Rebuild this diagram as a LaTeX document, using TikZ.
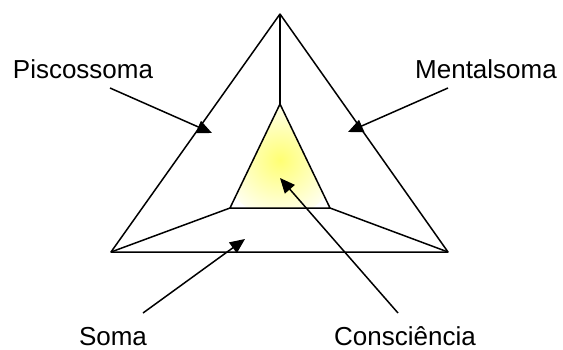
\documentclass[tikz,border=0pt]{standalone}
\usepackage{fontspec}
\setmainfont{Liberation Sans}
\usetikzlibrary{arrows.meta, calc}

\begin{document}
\begin{tikzpicture}[
    x=1pt, y=-1pt,
    edge/.style={line width=1.5pt, line join=round},
    label/.style={anchor=base, inner sep=0pt, font=\fontsize{26}{28}\selectfont},
    pointer/.style={line width=1.5pt, -{Triangle[length=15pt, width=13pt]}}
]
\useasboundingbox (0,0) rectangle (563,349);

% corners of the two triangles
\coordinate (top) at (280,14);
\coordinate (left) at (111,252);
\coordinate (right) at (448,252);
\coordinate (itop) at (280,104);
\coordinate (ileft) at (230,208);
\coordinate (iright) at (330,208);

% glowing core
\begin{scope}
  \clip (itop) -- (ileft) -- (iright) -- cycle;
  \shade[inner color=yellow!55, outer color=yellow!6] (280,160) circle (58);
\end{scope}

\draw[edge] (top) -- (left) -- (right) -- cycle;
\draw[edge] (itop) -- (ileft) -- (iright) -- cycle;
\draw[edge] (top) -- (itop);
\draw[edge] (left) -- (ileft);
\draw[edge] (right) -- (iright);

\node[label] (psi) at (83,78) {Piscossoma};
\node[label] (mental) at (486,78) {Mentalsoma};
\node[label] (soma) at (113,345) {Soma};
\node[label] (cons) at (405,345) {Consciência};

\coordinate (psi-tail) at (110,88);
\coordinate (psi-tip) at (212,133);
\coordinate (mental-tail) at (448,88);
\coordinate (mental-tip) at (348,132);
\coordinate (soma-tail) at (143,313);
\coordinate (soma-tip) at (245,239);
\coordinate (cons-tail) at (398,313);
\coordinate (cons-tip) at (280,178);

\draw[pointer] (psi-tail) -- (psi-tip);
\draw[pointer] (mental-tail) -- (mental-tip);
\draw[pointer] (soma-tail) -- (soma-tip);
\draw[pointer] (cons-tail) -- (cons-tip);
\end{tikzpicture}
\end{document}
